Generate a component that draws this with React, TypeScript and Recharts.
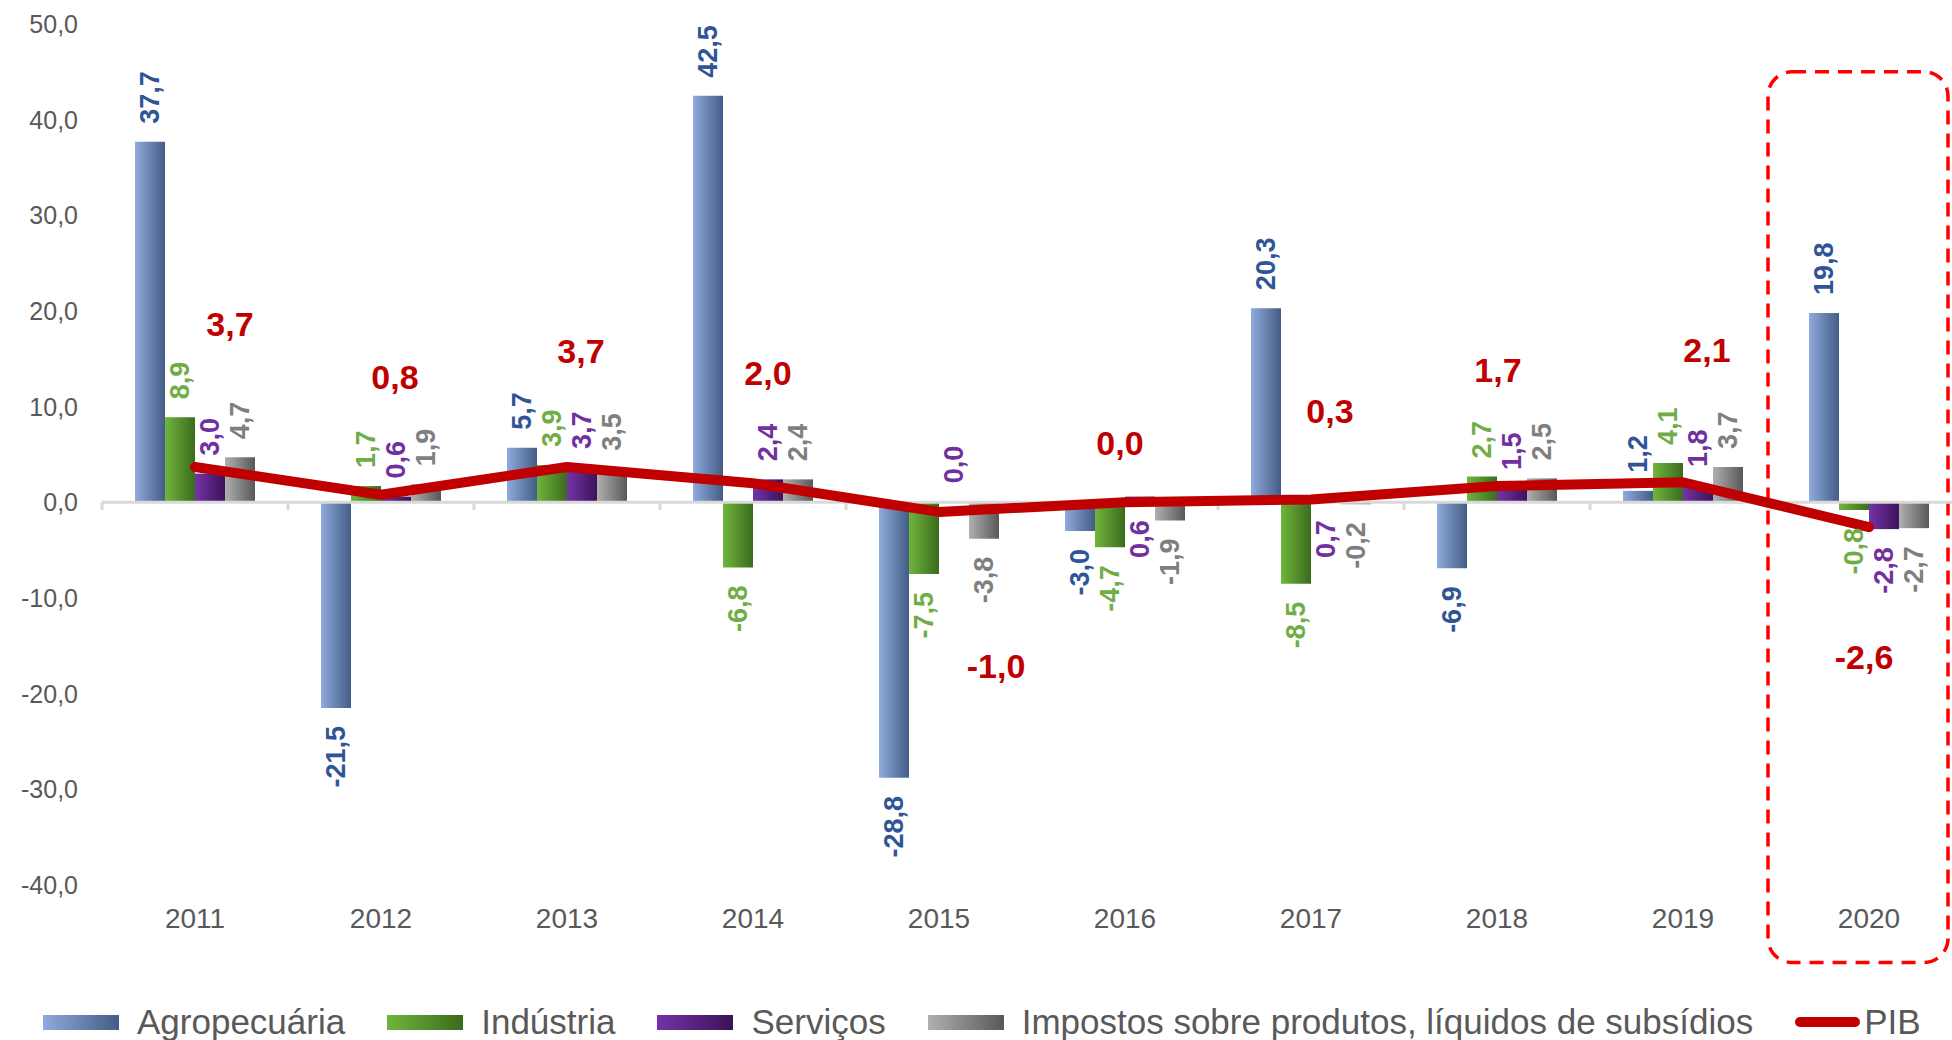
import React from "react";
import {
  ComposedChart,
  Bar,
  Line,
  XAxis,
  YAxis,
  LabelList,
  ReferenceLine,
  ReferenceArea,
} from "recharts";

const years = ["2011", "2012", "2013", "2014", "2015", "2016", "2017", "2018", "2019", "2020"];
const agropecuaria = [37.7, -21.5, 5.7, 42.5, -28.8, -3.0, 20.3, -6.9, 1.2, 19.8];
const industria = [8.9, 1.7, 3.9, -6.8, -7.5, -4.7, -8.5, 2.7, 4.1, -0.8];
const servicos = [3.0, 0.6, 3.7, 2.4, 0.0, 0.6, 0.7, 1.5, 1.8, -2.8];
const impostos = [4.7, 1.9, 3.5, 2.4, -3.8, -1.9, -0.2, 2.5, 3.7, -2.7];
const pib = [3.7, 0.8, 3.7, 2.0, -1.0, 0.0, 0.3, 1.7, 2.1, -2.6];
const yTicks = [-40, -30, -20, -10, 0, 10, 20, 30, 40, 50];

// hand-placed PIB labels (pixel offsets from the point)
const pibLabelDx = [35, 14, 14, 15, 57, -5, 19, 1, 24, -5];
const pibLabelDy = [-143, -118, -116, -110, 154, -59, -88, -116, -132, 130];

const FONT = '"Liberation Sans", Arial, sans-serif';
const fmt = (v: number) => v.toFixed(1).replace(".", ",");

const data = years.map((year, i) => ({
  year,
  agro: agropecuaria[i],
  ind: industria[i],
  serv: servicos[i],
  imp: impostos[i],
  pib: pib[i],
}));

const barLabel = (color: string, forcedBelow: string[] = []) => (props: any) => {
  const { x, y, width, height, value, index } = props;
  if (value === undefined || value === null) return null;
  const top = Math.min(y, y + height);
  const bottom = Math.max(y, y + height);
  const cx = x + width / 2;
  const below = value < 0 || forcedBelow.includes(years[index]);
  const ay = below ? bottom + 18 : top - 18;
  return (
    <text
      x={cx}
      y={ay}
      dy={9}
      transform={`rotate(-90 ${cx} ${ay})`}
      textAnchor={below ? "end" : "start"}
      fontFamily={FONT}
      fontWeight="bold"
      fontSize={27}
      fill={color}
    >
      {fmt(value)}
    </text>
  );
};

const pibLabel = (props: any) => {
  const { x, y, value, index } = props;
  return (
    <text
      x={x + pibLabelDx[index]}
      y={y + pibLabelDy[index]}
      textAnchor="middle"
      dominantBaseline="central"
      fontFamily={FONT}
      fontWeight="bold"
      fontSize={34}
      fill="#c00000"
    >
      {fmt(value)}
    </text>
  );
};

const dashedBox = (props: any) => {
  const x = props.x - 8;
  const w = props.width - 6;
  return (
    <rect
      x={x}
      y={props.y}
      width={w}
      height={props.height}
      rx={24}
      ry={24}
      fill="none"
      stroke="#ff0000"
      strokeWidth={3.5}
      strokeDasharray="14 9"
    />
  );
};

const legendItems = [
  { name: "Agropecuária", bg: "linear-gradient(90deg, #8faadc, #445d85)" },
  { name: "Indústria", bg: "linear-gradient(90deg, #70b53c, #3a6b1e)" },
  { name: "Serviços", bg: "linear-gradient(90deg, #7433a8, #3c1259)" },
  { name: "Impostos sobre produtos, líquidos de subsídios", bg: "linear-gradient(90deg, #b0b0b0, #585858)" },
];

export default function App() {
  return (
    <div style={{ position: "absolute", top: 0, left: 0, width: 1952, height: 1040, overflow: "hidden", background: "#fff" }}>
      <ComposedChart
        width={1962}
        height={1040}
        data={data}
        margin={{ top: 24, right: 0, left: 0, bottom: 95 }}
        barCategoryGap={33}
        barGap={0}
      >
        <defs>
          <linearGradient id="gAgro" x1="0" y1="0" x2="1" y2="0">
            <stop offset="0%" stopColor="#8faadc" />
            <stop offset="100%" stopColor="#445d85" />
          </linearGradient>
          <linearGradient id="gInd" x1="0" y1="0" x2="1" y2="0">
            <stop offset="0%" stopColor="#70b53c" />
            <stop offset="100%" stopColor="#3a6b1e" />
          </linearGradient>
          <linearGradient id="gServ" x1="0" y1="0" x2="1" y2="0">
            <stop offset="0%" stopColor="#7433a8" />
            <stop offset="100%" stopColor="#3c1259" />
          </linearGradient>
          <linearGradient id="gImp" x1="0" y1="0" x2="1" y2="0">
            <stop offset="0%" stopColor="#b0b0b0" />
            <stop offset="100%" stopColor="#585858" />
          </linearGradient>
        </defs>
        <XAxis
          dataKey="year"
          height={60}
          axisLine={false}
          tickLine={false}
          tickSize={0}
          tickMargin={23}
          tick={{ fontSize: 28, fill: "#595959", fontFamily: FONT }}
        />
        <YAxis
          width={102}
          domain={[-40, 50]}
          ticks={yTicks}
          allowDataOverflow
          axisLine={false}
          tickLine={false}
          tickSize={0}
          tickMargin={24}
          tickFormatter={fmt}
          tick={{ fontSize: 25, fill: "#595959", fontFamily: FONT }}
        />
        <ReferenceLine y={0} stroke="#d9d9d9" strokeWidth={3} />
        {years.map((yr) => (
          <ReferenceLine
            key={yr}
            position="start"
            segment={[{ x: yr, y: 0 }, { x: yr, y: -0.8 }]}
            stroke="#d9d9d9"
            strokeWidth={3}
          />
        ))}
        <Bar dataKey="agro" name="Agropecuária" fill="url(#gAgro)" minPointSize={1} isAnimationActive={false}>
          <LabelList dataKey="agro" content={barLabel("#2f5597")} />
        </Bar>
        <Bar dataKey="ind" name="Indústria" fill="url(#gInd)" minPointSize={1} isAnimationActive={false}>
          <LabelList dataKey="ind" content={barLabel("#70ad47")} />
        </Bar>
        <Bar dataKey="serv" name="Serviços" fill="url(#gServ)" minPointSize={1} isAnimationActive={false}>
          <LabelList dataKey="serv" content={barLabel("#7030a0", ["2016", "2017"])} />
        </Bar>
        <Bar dataKey="imp" name="Impostos sobre produtos, líquidos de subsídios" fill="url(#gImp)" minPointSize={1} isAnimationActive={false}>
          <LabelList dataKey="imp" content={barLabel("#7f7f7f")} />
        </Bar>
        <Line
          dataKey="pib"
          name="PIB"
          stroke="#c00000"
          strokeWidth={10}
          strokeLinecap="round"
          strokeLinejoin="round"
          dot={false}
          isAnimationActive={false}
        >
          <LabelList dataKey="pib" content={pibLabel} />
        </Line>
        <ReferenceArea x1="2020" x2="2020" y1={45} y2={-48.1} ifOverflow="visible" shape={dashedBox} />
      </ComposedChart>
      <div
        style={{
          position: "absolute",
          top: 1002,
          left: 43,
          height: 40,
          display: "flex",
          alignItems: "center",
          fontFamily: FONT,
          fontSize: 35,
          color: "#595959",
          whiteSpace: "nowrap",
        }}
      >
        {legendItems.map((it) => (
          <div key={it.name} style={{ display: "flex", alignItems: "center", marginRight: 42 }}>
            <span style={{ display: "inline-block", width: 76, height: 15, background: it.bg, marginRight: 18 }} />
            <span>{it.name}</span>
          </div>
        ))}
        <div style={{ display: "flex", alignItems: "center" }}>
          <span style={{ display: "inline-block", width: 65, height: 10, borderRadius: 5, background: "#c00000", marginRight: 4 }} />
          <span>PIB</span>
        </div>
      </div>
    </div>
  );
}
